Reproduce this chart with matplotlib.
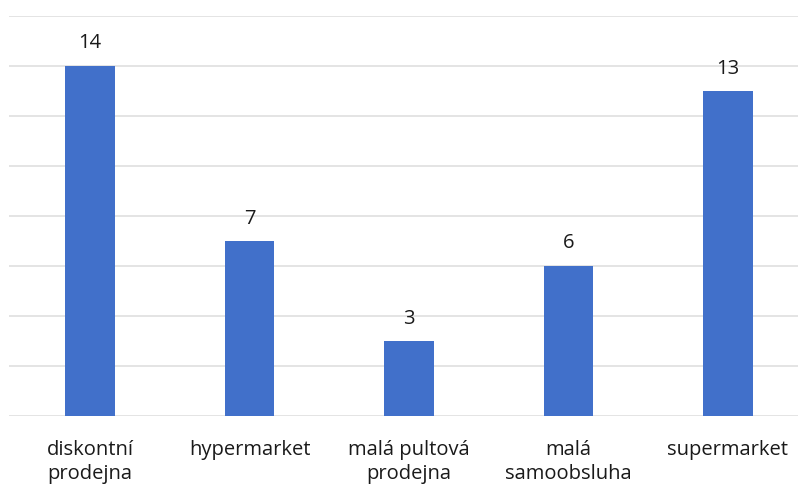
import matplotlib.pyplot as plt

categories = ["diskontní\nprodejna", "hypermarket", "malá pultová\nprodejna",
              "malá\nsamoobsluha", "supermarket"]
counts = [14, 7, 3, 6, 13]
grid_ticks = [0, 2, 4, 6, 8, 10, 12, 14, 16]

plt.rcParams['font.family'] = ['Open Sans', 'DejaVu Sans']

fig = plt.figure(figsize=(7.98, 4.84), dpi=100)
ax = fig.add_axes([9 / 798, 68 / 484, 789 / 798, 400 / 484])

x = range(len(categories))
bars = ax.bar(x, counts, width=0.31, color='#4170CA', zorder=3)

for rect, v in zip(bars, counts):
    ax.annotate(str(v), (rect.get_x() + rect.get_width() / 2, v),
                xytext=(0, 9), textcoords='offset points',
                ha='center', va='bottom', fontsize=14.5, color='#1a1a1a')

ax.set_xlim(-0.508, 4.439)
ax.set_ylim(0, 16)
ax.set_yticks(grid_ticks)
ax.set_yticklabels([])
ax.yaxis.grid(True, color='#DCDCDC', linewidth=1.1, zorder=0)
ax.tick_params(axis='y', length=0)
ax.tick_params(axis='x', length=0, pad=17)
ax.set_xticks(list(x))
ax.set_xticklabels(categories, fontsize=14.5, color='#1a1a1a', linespacing=1.3)

for s in ax.spines.values():
    s.set_visible(False)

fig.savefig('out.png', dpi=100)
